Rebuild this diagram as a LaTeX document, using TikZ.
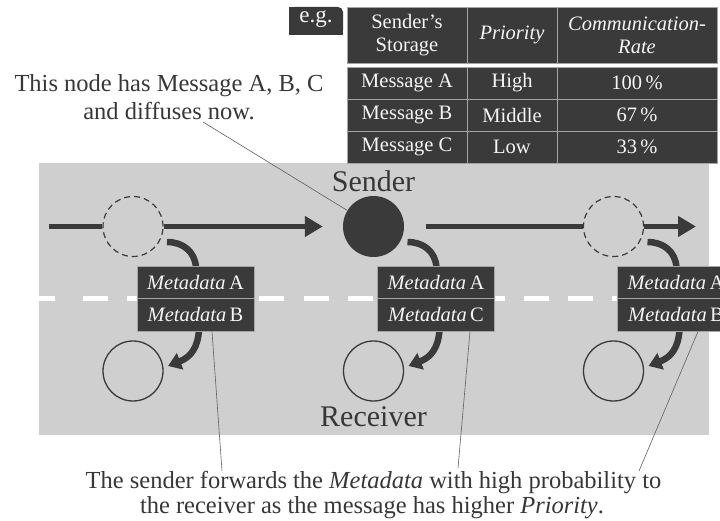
\documentclass[tikz,border=0pt]{standalone}
\usepackage{fontspec}
\setmainfont{Liberation Serif}
\usetikzlibrary{arrows.meta}
\pgfdeclarelayer{background}
\pgfsetlayers{background,main}
\definecolor{dk}{RGB}{58,58,58}
\definecolor{stagegray}{RGB}{207,207,207}
\definecolor{rule}{RGB}{165,165,165}
\definecolor{ink}{RGB}{55,55,55}
\definecolor{paper}{RGB}{245,245,245}
\definecolor{leader}{RGB}{95,95,95}

\begin{document}
\begin{tikzpicture}[x=1pt,y=-1pt,
  cellbox/.style={draw=rule, line width=0.8pt, fill=dk, text=paper, inner sep=0pt, anchor=center},
  tabfont/.style={font=\fontsize{20.5}{23}\selectfont},
  tabital/.style={font=\fontsize{20.5}{23}\selectfont\itshape},
  headcell/.style={cellbox, minimum height=56pt, align=center},
  rowcell/.style={cellbox, tabfont, minimum height=32pt},
  metabox/.style={cellbox, tabfont, minimum width=117pt, minimum height=32.5pt},
  bigtext/.style={text=ink, font=\fontsize{30}{34}\selectfont, inner sep=0pt, anchor=base},
  note/.style={text=ink, font=\fontsize{24.5}{28}\selectfont, inner sep=0pt, anchor=base},
  flow/.style={draw=dk, line width=5.5pt},
  flowtip/.style={-{Triangle[length=18pt,width=20pt]}},
  hop/.style={draw=dk, line width=6.5pt},
  hoptip/.style={-{Triangle[length=13pt,width=17pt]}},
  ghost/.style={circle, draw=dk, line width=1.2pt, dash pattern=on 6pt off 4pt, minimum size=60pt, inner sep=0pt},
  rx/.style={circle, draw=dk, line width=1.3pt, minimum size=60pt, inner sep=0pt},
  leadline/.style={draw=leader, line width=0.6pt},
]
\useasboundingbox (0,0) rectangle (720,521);
\clip (0,0) rectangle (720,521);

% ---- storage table ----
\fill[dk, rounded corners=5pt] (289,7) rectangle (343,35);
\fill[dk] (289,7) rectangle (300,35);
\fill[dk] (289,20) rectangle (343,35);
\node[anchor=base, text=paper, font=\fontsize{23}{26}\selectfont, inner sep=0pt] (eg) at (316,23) {e.g.};

\node[headcell, tabfont, minimum width=120pt] (h1) at (407,35) {Sender’s\\Storage};
\node[headcell, tabital, minimum width=90pt] (h2) at (512,35) {Priority};
\node[headcell, tabital, minimum width=160pt] (h3) at (637,35) {Communication-\\Rate};

\node[rowcell, minimum width=120pt] (a1) at (407,83) {Message A};
\node[rowcell, minimum width=90pt]  (a2) at (512,83) {High};
\node[rowcell, minimum width=160pt] (a3) at (637,83) {100\,\%};
\node[rowcell, minimum width=120pt] (b1) at (407,115) {Message B};
\node[rowcell, minimum width=90pt]  (b2) at (512,115) {Middle};
\node[rowcell, minimum width=160pt] (b3) at (637,115) {67\,\%};
\node[rowcell, minimum width=120pt] (c1) at (407,147) {Message C};
\node[rowcell, minimum width=90pt]  (c2) at (512,147) {Low};
\node[rowcell, minimum width=160pt] (c3) at (637,147) {33\,\%};

% ---- nodes on the stage ----
\node[circle, fill=dk, minimum size=61pt, inner sep=0pt] (sender) at (373.5,226.5) {};
\node[bigtext] (sendlabel) at (373.5,192) {Sender};
\node[ghost] (g1) at (133,226.5) {};
\node[ghost] (g3) at (613.5,226.5) {};
\node[rx] (r1) at (133,371) {};
\node[rx] (r2) at (373.5,371) {};
\node[rx] (r3) at (613.5,371) {};
\node[bigtext] (rxlabel) at (373.5,426) {Receiver};

\node[metabox] (m1a) at (195.5,282.25) {\textit{Metadata}\,A};
\node[metabox] (m1b) at (195.5,314.75) {\textit{Metadata}\,B};
\node[metabox] (m2a) at (436,282.25) {\textit{Metadata}\,A};
\node[metabox] (m2b) at (436,314.75) {\textit{Metadata}\,C};
\node[metabox] (m3a) at (676,282.25) {\textit{Metadata}\,A};
\node[metabox] (m3b) at (676,314.75) {\textit{Metadata}\,B};

% ---- captions ----
\node[note] (ann1) at (169,92) {This node has Message A, B, C};
\node[note] (ann2) at (169,120) {and diffuses now.};
\node[note] (cap1) at (373.5,488) {The sender forwards the \textit{Metadata} with high probability to};
\node[note] (cap2) at (372,513) {the receiver as the message has higher \textit{Priority}.};

% ---- stage, divider, flow and hops underneath ----
\begin{pgfonlayer}{background}
  \fill[stagegray] (39,163) rectangle (709,435);
  \draw[white, line width=5.5pt] (39,298.5) -- (55,298.5);
  \draw[white, line width=5.5pt, dash pattern=on 25pt off 19.1pt] (83,298.5) -- (720,298.5);

  \coordinate (entry) at (49,226.5);
  \coordinate (exit) at (696,226.5);
  \draw[flow] (entry) -- (g1.west);
  \draw[flow, flowtip] (g1.east) -- ([xshift=-20pt]sender.west);
  \draw[flow] ([xshift=22pt]sender.east) -- (g3.west);
  \draw[flow, flowtip] (g3.east) -- (exit);

  \foreach \src/\ma/\mb/\dst in {g1/m1a/m1b/r1, sender/m2a/m2b/r2, g3/m3a/m3b/r3}{
    \draw[hop] ([shift={(34,15.5)}]\src.center) .. controls +(16,0) and +(-1,-16) .. ([shift={(0.5,2)}]\ma.north);
    \draw[hop, hoptip] ([shift={(3.5,-2)}]\mb.south) .. controls +(-1,18) and +(23,-9) .. ([shift={(35,-5)}]\dst.center);
  }
\end{pgfonlayer}

% ---- leader lines ----
\coordinate (lead0) at ([shift={(34,2)}]ann2.base);
\draw[leadline] (lead0) -- (sender);
\coordinate (foot1) at (222,471);
\coordinate (foot2) at (458,468);
\coordinate (foot3) at (639,471);
\draw[leadline] ([xshift=16.5pt]m1b.south) -- (foot1);
\draw[leadline] ([xshift=34pt]m2b.south) -- (foot2);
\draw[leadline] ([xshift=22pt]m3b.south) -- (foot3);
\end{tikzpicture}
\end{document}
